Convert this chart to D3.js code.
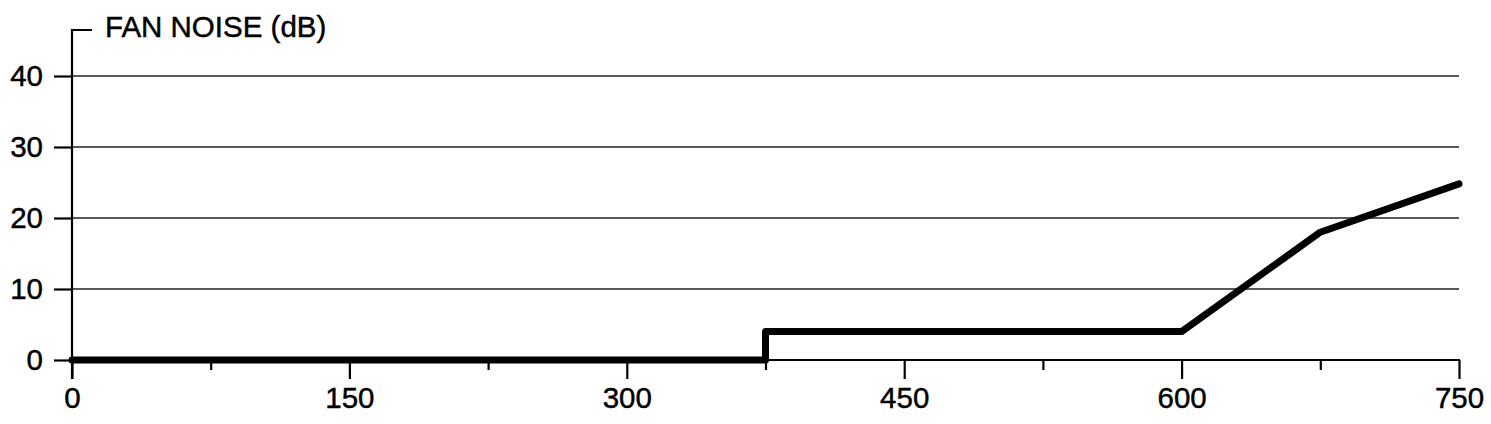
<!DOCTYPE html>
<html>
<head>
<meta charset="utf-8">
<script src="https://cdn.jsdelivr.net/npm/d3@7"></script>
<style>
  body { margin: 0; background: #fff; }
  text { font-family: "Liberation Sans", Arial, Helvetica, sans-serif; fill: #000; stroke: #000; stroke-width: 0.45px; }
</style>
</head>
<body>
<svg width="1491" height="424"></svg>
<script>
// chart data
var airflow = [0, 375, 375, 600, 675, 750];
var noise = [0, 0, 4, 4, 18, 24.8];
var xTicks = [0, 150, 300, 450, 600, 750];
var xMinorTicks = [75, 225, 375, 525, 675];
var yTicks = [0, 10, 20, 30, 40];
var yTitle = "FAN NOISE (dB)";

function main() {
    var svg = d3.select("svg");

    var left = 72, right = 1459, top = 30, bottom = 360;

    var x = d3.scaleLinear().domain([0, 750]).range([left, right]);
    var y = d3.scaleLinear().domain([0, 40]).range([bottom, 76]);

    // grid lines
    svg.append("g")
        .selectAll("line")
        .data(yTicks.filter(function(d) { return d > 0; }))
        .enter().append("line")
        .attr("x1", left)
        .attr("x2", right)
        .attr("y1", function(d) { return y(d); })
        .attr("y2", function(d) { return y(d); })
        .attr("stroke", "#222")
        .attr("stroke-width", 1.4);

    // x axis
    var xAxis = svg.append("g")
        .attr("transform", "translate(0," + bottom + ")")
        .call(d3.axisBottom(x).tickValues(xTicks).tickSize(19).tickPadding(8).tickFormat(d3.format("d")));
    xAxis.select(".domain").remove();
    xAxis.selectAll(".tick line").attr("stroke", "#000").attr("stroke-width", 2.2);
    xAxis.selectAll(".tick text").style("font-size", "29.5px").attr("font-family", null);

    svg.append("g")
        .attr("transform", "translate(0," + bottom + ")")
        .call(d3.axisBottom(x).tickValues(xMinorTicks).tickSize(10).tickFormat(""))
        .call(function(g) { g.select(".domain").remove(); })
        .selectAll(".tick line").attr("stroke", "#000").attr("stroke-width", 2.2);

    svg.append("line")
        .attr("x1", left).attr("x2", right + 1)
        .attr("y1", bottom).attr("y2", bottom)
        .attr("stroke", "#000").attr("stroke-width", 2.2);

    // y axis
    var yAxis = svg.append("g")
        .attr("transform", "translate(" + left + ",0)")
        .call(d3.axisLeft(y).tickValues(yTicks).tickSize(18).tickPadding(11));
    yAxis.select(".domain").remove();
    yAxis.selectAll(".tick line").attr("stroke", "#000").attr("stroke-width", 2.2);
    yAxis.selectAll(".tick text").style("font-size", "29.5px").attr("font-family", null);

    svg.append("path")
        .attr("d", "M" + left + "," + (bottom + 19) + "V" + top + "H" + (left + 20))
        .attr("fill", "none")
        .attr("stroke", "#000")
        .attr("stroke-width", 2.2);

    svg.append("text")
        .attr("x", left + 33)
        .attr("y", top + 7)
        .style("font-size", "29.5px")
        .text(yTitle);

    // data line
    var line = d3.line()
        .x(function(d, i) { return x(airflow[i]); })
        .y(function(d) { return y(d); });

    svg.append("path")
        .attr("d", line(noise))
        .attr("fill", "none")
        .attr("stroke", "#000")
        .attr("stroke-width", 7)
        .attr("stroke-linejoin", "round")
        .attr("stroke-linecap", "round");
}

main();
</script>
</body>
</html>
